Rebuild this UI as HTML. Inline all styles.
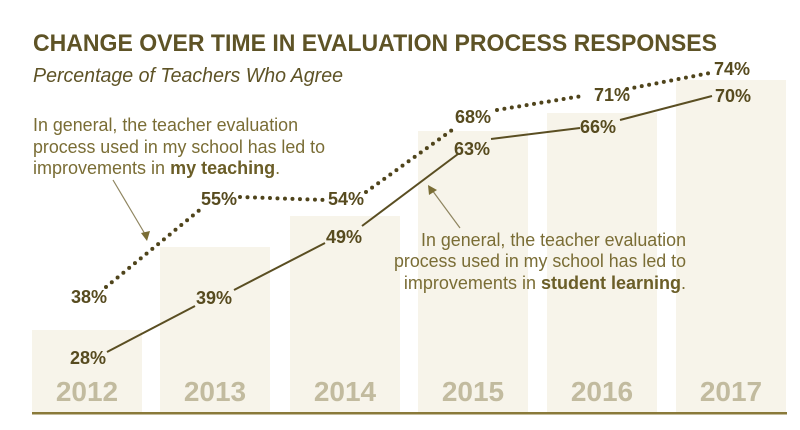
<!DOCTYPE html>
<html><head><meta charset="utf-8"><style>
html,body{margin:0;padding:0;background:#fff;}
svg{display:block;font-family:"Liberation Sans",sans-serif;}
</style></head><body>
<svg width="800" height="430" viewBox="0 0 800 430" xmlns="http://www.w3.org/2000/svg">
<g fill="#f7f4ea">
<rect x="32" y="330" width="110" height="82"/>
<rect x="160" y="247" width="110" height="165"/>
<rect x="290" y="216" width="110" height="196"/>
<rect x="418" y="131" width="110" height="281"/>
<rect x="547" y="113" width="110" height="299"/>
<rect x="676" y="80" width="110" height="332"/>
</g>
<rect x="32" y="412" width="755" height="2.5" fill="#8a7a3a"/>
<g fill="#c2bb9f" font-weight="bold" font-size="28" text-anchor="middle">
<text x="87" y="401">2012</text><text x="215" y="401">2013</text><text x="345" y="401">2014</text>
<text x="473" y="401">2015</text><text x="602" y="401">2016</text><text x="731" y="401">2017</text>
</g>
<text x="33" y="51" font-size="24" font-weight="bold" fill="#5e5326" textLength="684" lengthAdjust="spacingAndGlyphs">CHANGE OVER TIME IN EVALUATION PROCESS RESPONSES</text>
<text x="33" y="82" font-size="20" font-style="italic" fill="#5e5326" textLength="310" lengthAdjust="spacingAndGlyphs">Percentage of Teachers Who Agree</text>
<g font-size="18" fill="#7a6d35">
<text x="33" y="131" textLength="265" lengthAdjust="spacingAndGlyphs">In general, the teacher evaluation</text>
<text x="33" y="153" textLength="292" lengthAdjust="spacingAndGlyphs">process used in my school has led to</text>
<text x="33" y="174">improvements in <tspan font-weight="bold" fill="#6b5e28">my teaching</tspan>.</text>
<g text-anchor="end">
<text x="686" y="246" textLength="265" lengthAdjust="spacingAndGlyphs">In general, the teacher evaluation</text>
<text x="686" y="267" textLength="292" lengthAdjust="spacingAndGlyphs">process used in my school has led to</text>
<text x="686" y="289">improvements in <tspan font-weight="bold" fill="#6b5e28">student learning</tspan>.</text>
</g></g>
<g stroke="#8f8560" stroke-width="1.2" fill="none">
<line x1="113" y1="180" x2="145" y2="234"/>
<line x1="460" y1="228" x2="432" y2="190"/>
</g>
<polygon points="147,241 141,233 150,231" fill="#7a6d35"/>
<polygon points="428,185 437,190 429,195" fill="#7a6d35"/>
<g stroke="#5a4e22" stroke-width="2" fill="none">
<polyline points="107,352 195,306"/>
<polyline points="234,290 325,243"/>
<polyline points="362,226 458,154"/>
<polyline points="491,139 580,128"/>
<polyline points="620,120 712,96"/>
</g>
<g stroke="#4f441b" stroke-width="4" stroke-linecap="round" stroke-dasharray="0 7.5" fill="none">
<polyline points="106,287 202,208"/>
<polyline points="240,197 325,200"/>
<polyline points="366,192 452,130"/>
<polyline points="497,110 582,96"/>
<polyline points="627,89 710,73"/>
</g>
<g fill="#574b1f" font-weight="bold" font-size="18" text-anchor="middle">
<text x="88" y="364">28%</text><text x="89" y="303">38%</text>
<text x="214" y="304">39%</text><text x="219" y="205">55%</text>
<text x="344" y="243">49%</text><text x="346" y="205">54%</text>
<text x="472" y="155">63%</text><text x="473" y="123">68%</text>
<text x="598" y="133">66%</text><text x="612" y="101">71%</text>
<text x="733" y="102">70%</text><text x="732" y="75">74%</text>
</g>
</svg>
</body></html>
